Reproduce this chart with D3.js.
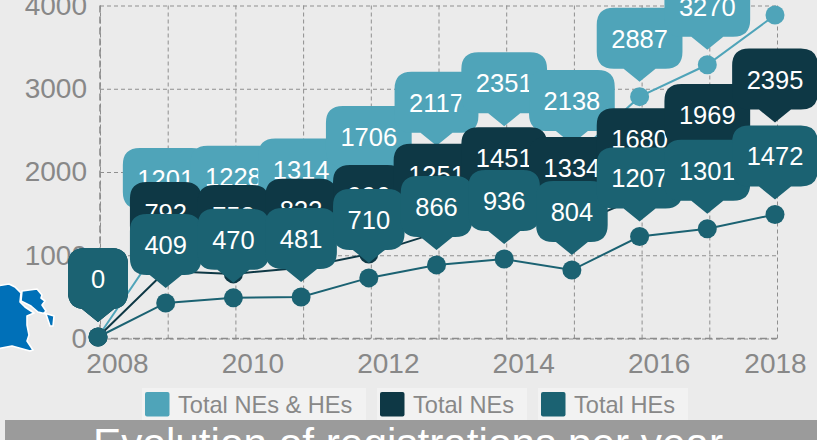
<!DOCTYPE html>
<html>
<head>
<meta charset="utf-8">
<script src="https://cdn.jsdelivr.net/npm/d3@7"></script>
<style>
  html, body { margin: 0; padding: 0; background: #ebebeb; overflow: hidden; }
  svg { display: block; font-family: "Liberation Sans", Arial, sans-serif; }
</style>
</head>
<body>
<svg id="viz"></svg>
<script>
const years = [2008, 2009, 2010, 2011, 2012, 2013, 2014, 2015, 2016, 2017, 2018];
const yearLabels = [2008, 2010, 2012, 2014, 2016, 2018];
const yTicks = [0, 1000, 2000, 3000, 4000];

const totalAll = [0, 1201, 1228, 1314, 1706, 2117, 2351, 2138, 2887, 3270, 3867];
const totalNEs = [0, 792, 758, 833, 996, 1251, 1451, 1334, 1680, 1969, 2395];
const totalHEs = [0, 409, 470, 481, 710, 866, 936, 804, 1207, 1301, 1472];

const seriesNames = ["Total NEs & HEs", "Total NEs", "Total HEs"];
const seriesColors = ["#4fa4b9", "#0e3845", "#1b6272"];
const seriesValues = [totalAll, totalNEs, totalHEs];

const width = 817, height = 440;
const svg = d3.select("#viz").attr("width", width).attr("height", height);

const x = d3.scaleLinear().domain([2008, 2018]).range([100, 777]);
const y = d3.scaleLinear().domain([0, 4000]).range([338.5, 5.5]);

// background map fragment, bottom left
const mapG = svg.append("g")
  .attr("fill", "#0070b8")
  .attr("stroke", "#fff")
  .attr("stroke-width", 1.6)
  .attr("stroke-linejoin", "round");
mapG.append("path")
  .attr("d", "M-3,286 L9,284 L15,287 L21,293 L20,302 L25,307 L34,313 L27,316 L27,325 L29,335 L27,341 L33,350 L30,351 L12,346 L-3,349 Z");
mapG.append("path")
  .attr("d", "M22,291 L37,289 L42,295 L41,298 L45,301 L42,305 L46,311 L44,313 L54,316 L53,326 L50,326 L46,314 L38,312 L31,306 L21,301 Z");

// grid
const gridX = svg.append("g")
  .attr("transform", `translate(0,${y(0)})`)
  .call(d3.axisBottom(x).tickValues(years).tickSize(y(4000) - y(0)).tickFormat(""));
const gridY = svg.append("g")
  .attr("transform", `translate(${x(2008)},0)`)
  .call(d3.axisLeft(y).tickValues(yTicks).tickSize(x(2008) - x(2018)).tickFormat(""));
svg.selectAll("g line")
  .attr("stroke", "#8f8f8f")
  .attr("stroke-width", 1)
  .attr("stroke-dasharray", "4,3");
gridX.select(".domain").remove();
gridY.select(".domain").remove();

// heavier frame lines on the left and bottom
svg.append("line")
  .attr("x1", x(2008)).attr("x2", x(2008))
  .attr("y1", y(4000)).attr("y2", y(0))
  .attr("stroke", "#8c8c8c").attr("stroke-width", 1.6).attr("stroke-dasharray", "7,4");
svg.append("line")
  .attr("x1", x(2008)).attr("x2", x(2018))
  .attr("y1", y(0)).attr("y2", y(0))
  .attr("stroke", "#8c8c8c").attr("stroke-width", 1.6).attr("stroke-dasharray", "7,4");

// tick labels
const yAxis = svg.append("g")
  .attr("transform", "translate(87,0)")
  .call(d3.axisLeft(y).tickValues(yTicks).tickFormat(d3.format("d")).tickSize(0).tickPadding(0));
yAxis.select(".domain").remove();
yAxis.selectAll("text")
  .attr("font-size", 28).attr("font-family", "Liberation Sans").attr("fill", "#888");

const xAxis = svg.append("g")
  .attr("transform", "translate(0,373)")
  .call(d3.axisBottom(x).tickValues(yearLabels).tickFormat(d3.format("d")).tickSize(0).tickPadding(0));
xAxis.select(".domain").remove();
xAxis.selectAll("text")
  .attr("y", 0)
  .attr("dy", 0)
  .attr("dx", d => d === 2018 ? -2 : 17)
  .attr("font-size", 28).attr("font-family", "Liberation Sans").attr("fill", "#888");

// lines and markers sit a little up and left of the grid
const plot = svg.append("g").attr("transform", "translate(-2,-1.5)");

const line = d3.line()
  .x((d, i) => x(years[i]))
  .y(d => y(d));

seriesValues.forEach((vals, s) => {
  const g = plot.append("g");
  g.append("path")
    .attr("d", line(vals))
    .attr("fill", "none")
    .attr("stroke", seriesColors[s])
    .attr("stroke-width", 2);
  g.selectAll("circle")
    .data(vals)
    .enter()
    .append("circle")
    .attr("cx", (d, i) => x(years[i]))
    .attr("cy", d => y(d))
    .attr("r", 9.5)
    .attr("fill", seriesColors[s]);
});

// callout shape around a label, origin at the marker centre
function callout(w) {
  const r = 17, top = -89, bottom = -28, tip = -15, half = w / 2, base = 16;
  const p = d3.path();
  p.moveTo(-half + r, top);
  p.lineTo(half - r, top);
  p.quadraticCurveTo(half, top, half, top + r);
  p.lineTo(half, bottom - r);
  p.quadraticCurveTo(half, bottom, half - r, bottom);
  p.lineTo(base, bottom);
  p.lineTo(0, tip);
  p.lineTo(-base, bottom);
  p.lineTo(-half + r, bottom);
  p.quadraticCurveTo(-half, bottom, -half, bottom - r);
  p.lineTo(-half, top + r);
  p.quadraticCurveTo(-half, top, -half + r, top);
  p.closePath();
  return p.toString();
}

seriesValues.forEach((vals, s) => {
  const labels = plot.append("g").selectAll("g")
    .data(vals)
    .enter()
    .append("g")
    .attr("transform", (d, i) => `translate(${x(years[i])},${y(d)})`);
  const shapes = labels.append("path").attr("fill", seriesColors[s]);
  const texts = labels.append("text")
    .attr("y", -58)
    .attr("dy", "0.35em")
    .attr("text-anchor", "middle")
    .attr("font-size", 25.5)
    .attr("fill", "#fff")
    .text(d => d);
  shapes.attr("d", function(d, i) {
    return callout(Math.max(60, texts.nodes()[i].getComputedTextLength() + 29));
  });
});

// legend
const legendX = [142, 377, 538];
const legendW = [224, 150, 150];
const legend = svg.append("g").selectAll("g")
  .data(seriesNames)
  .enter()
  .append("g")
  .attr("transform", (d, i) => `translate(${legendX[i]},388)`);
legend.append("rect")
  .attr("width", (d, i) => legendW[i])
  .attr("height", 32)
  .attr("fill", "#f2f2f2");
legend.append("rect")
  .attr("x", 3).attr("y", 4)
  .attr("width", 24.5).attr("height", 24.5)
  .attr("rx", 2)
  .attr("fill", (d, i) => seriesColors[i]);
legend.append("text")
  .attr("x", 36).attr("y", 25)
  .attr("font-size", 23.6)
  .attr("fill", "#888")
  .text(d => d);

// title band, cut off by the bottom of the picture
svg.append("rect")
  .attr("x", 5).attr("y", 420)
  .attr("width", width - 5).attr("height", 20)
  .attr("fill", "#9b9b9b");
svg.append("text")
  .attr("x", 93).attr("y", 458)
  .attr("font-size", 42.3)
  .attr("fill", "#fff")
  .text("Evolution of registrations per year");
</script>
</body>
</html>
